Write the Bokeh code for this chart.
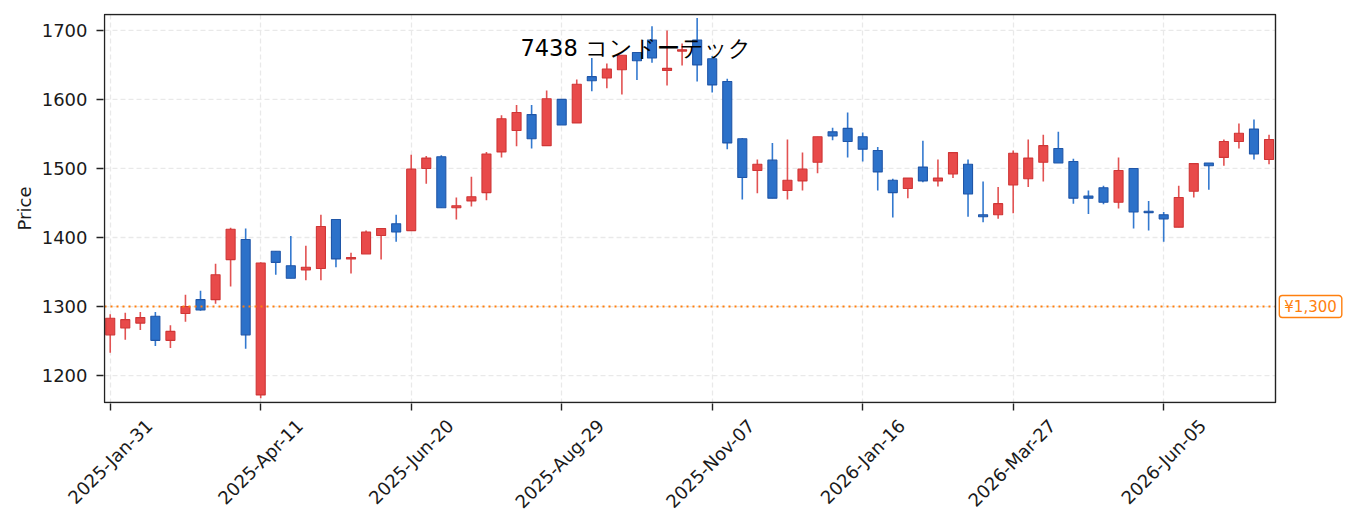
import math
from bokeh.plotting import figure
from bokeh.models import (ColumnDataSource, Range1d, FixedTicker, Label,
                          LinearAxis, BoxAnnotation)
from bokeh.embed import file_html
from bokeh.resources import INLINE

# ---------------- data ----------------
title_text = "7438  コンドーテック"
tick_labels = ["2025-Jan-31", "2025-Apr-11", "2025-Jun-20", "2025-Aug-29",
               "2025-Nov-07", "2026-Jan-16", "2026-Mar-27", "2026-Jun-05"]
y_ticks = [1200, 1300, 1400, 1500, 1600, 1700]
ref_price = 1300
ref_label = "¥1,300"

opens = [1259, 1269, 1276, 1286, 1251, 1290, 1310, 1310, 1368, 1397,
         1172, 1380, 1359, 1353, 1355, 1426, 1369, 1376, 1403, 1420,
         1410, 1500, 1517, 1443, 1453, 1465, 1524, 1555, 1578, 1533,
         1600, 1566, 1633, 1631, 1643, 1668, 1686, 1642, 1670, 1686,
         1659, 1626, 1543, 1497, 1512, 1468, 1482, 1509, 1553, 1558,
         1546, 1526, 1483, 1471, 1502, 1482, 1492, 1506, 1433, 1433,
         1476, 1485, 1509, 1529, 1510, 1460, 1472, 1451, 1500, 1438,
         1433, 1415, 1467, 1508, 1516, 1539, 1557, 1513]
highs = [1289, 1291, 1292, 1292, 1273, 1317, 1323, 1362, 1414, 1413,
         1364, 1380, 1402, 1388, 1433, 1426, 1378, 1410, 1413, 1433,
         1520, 1518, 1519, 1458, 1488, 1524, 1577, 1592, 1592, 1613,
         1600, 1629, 1660, 1652, 1664, 1668, 1706, 1700, 1681, 1718,
         1663, 1630, 1544, 1513, 1537, 1542, 1523, 1546, 1559, 1581,
         1552, 1531, 1485, 1486, 1540, 1513, 1523, 1513, 1481, 1473,
         1526, 1542, 1549, 1553, 1514, 1468, 1475, 1516, 1500, 1453,
         1437, 1475, 1507, 1508, 1542, 1565, 1571, 1549]
lows = [1233, 1252, 1266, 1243, 1240, 1278, 1294, 1304, 1329, 1239,
        1167, 1346, 1341, 1338, 1338, 1357, 1348, 1376, 1368, 1394,
        1410, 1478, 1443, 1426, 1445, 1454, 1516, 1532, 1529, 1533,
        1563, 1566, 1612, 1616, 1607, 1628, 1653, 1620, 1649, 1626,
        1610, 1528, 1455, 1464, 1457, 1455, 1468, 1493, 1541, 1516,
        1510, 1468, 1429, 1457, 1480, 1474, 1486, 1430, 1422, 1427,
        1435, 1473, 1481, 1508, 1449, 1434, 1448, 1442, 1413, 1410,
        1394, 1415, 1458, 1469, 1504, 1529, 1513, 1506]
closes = [1283, 1281, 1284, 1251, 1264, 1300, 1295, 1346, 1412, 1259,
          1363, 1364, 1341, 1357, 1416, 1369, 1371, 1408, 1413, 1408,
          1499, 1515, 1443, 1446, 1459, 1521, 1572, 1581, 1543, 1601,
          1563, 1622, 1627, 1644, 1664, 1656, 1660, 1645, 1672, 1650,
          1621, 1537, 1487, 1506, 1457, 1483, 1499, 1546, 1547, 1539,
          1528, 1495, 1465, 1486, 1482, 1486, 1523, 1463, 1430, 1449,
          1522, 1515, 1533, 1508, 1457, 1457, 1451, 1497, 1437, 1436,
          1427, 1458, 1507, 1504, 1539, 1551, 1521, 1542]

# ---------------- styling ----------------
FONT = "DejaVu Sans"
UP_FILL, UP_EDGE, UP_WICK = "#e84a4a", "#cf3636", "#e25252"
DN_FILL, DN_EDGE, DN_WICK = "#2c71c9", "#1f56a8", "#3379cf"
ORANGE = "#ff7f0e"
INK = "#1a1a1a"
FRAME = "#222222"
GRID = "#e9e9e9"

n = len(opens)
xs = list(range(n))
up = [c >= o for o, c in zip(opens, closes)]
src = ColumnDataSource(dict(
    x=xs,
    top=[max(o, c) for o, c in zip(opens, closes)],
    bottom=[min(o, c) for o, c in zip(opens, closes)],
    high=highs,
    low=lows,
    fill=[UP_FILL if u else DN_FILL for u in up],
    edge=[UP_EDGE if u else DN_EDGE for u in up],
    wick=[UP_WICK if u else DN_WICK for u in up],
))
tick_positions = list(range(0, 10 * len(tick_labels), 10))

# visible plotting box (data units) and pixel scale
box_l, box_r = -0.38, n - 1 + 0.43
box_b, box_t = 1161.0, 1723.0
px_x = (box_r - box_l) / 1171.0      # data units per pixel
px_y = (box_t - box_b) / 388.0

FW, FH = 1241, 390
x_start = box_l - px_x
x_end = x_start + FW * px_x
y_start = box_b - px_y
y_end = y_start + FH * px_y

p = figure(frame_width=FW, frame_height=FH,
           x_range=Range1d(x_start, x_end), y_range=Range1d(y_start, y_end),
           output_backend="svg", toolbar_location=None, title=None,
           min_border_left=103, min_border_right=0,
           min_border_top=13, min_border_bottom=113,
           background_fill_color="white", border_fill_color="white")
p.outline_line_color = None
p.ygrid.visible = False

# horizontal grid lines limited to the plotting box
p.segment(x0=[box_l] * len(y_ticks), x1=[box_r] * len(y_ticks),
          y0=y_ticks, y1=y_ticks, line_color=GRID, line_dash="5 3",
          line_width=1.3)
p.xgrid.ticker = FixedTicker(ticks=tick_positions)
p.xgrid.grid_line_color = GRID
p.xgrid.grid_line_dash = "5 3"
p.xgrid.grid_line_width = 1.3

# candles
p.segment(x0="x", y0="low", x1="x", y1="high", line_color="wick",
          line_width=1.6, source=src)
p.vbar(x="x", width=0.6, top="top", bottom="bottom", fill_color="fill",
       line_color="edge", line_width=1.1, source=src)

# reference price line
p.segment(x0=[box_l], x1=[box_r], y0=[ref_price], y1=[ref_price],
          line_color=ORANGE, line_dash="2 4", line_width=2)

# frame box
p.add_layout(BoxAnnotation(left=box_l, right=box_r, bottom=box_b, top=box_t,
                           fill_color=None, fill_alpha=0,
                           line_color=FRAME, line_width=1.4, line_alpha=1))

# y axis
p.yaxis.ticker = FixedTicker(ticks=y_ticks)
p.yaxis.axis_label = "Price"
p.yaxis.axis_label_text_font = FONT
p.yaxis.axis_label_text_font_size = "18px"
p.yaxis.axis_label_text_font_style = "normal"
p.yaxis.axis_label_text_color = INK
p.yaxis.axis_label_standoff = 4
p.yaxis.major_label_text_font = FONT
p.yaxis.major_label_text_font_size = "18px"
p.yaxis.major_label_text_color = INK
p.yaxis.major_label_standoff = 9

# x axis: tick marks only
p.xaxis.ticker = FixedTicker(ticks=tick_positions)
p.xaxis.major_label_overrides = {t: "" for t in tick_positions}
p.xaxis.major_label_standoff = 0

for ax in (p.xaxis, p.yaxis):
    ax.axis_line_color = None
    ax.major_tick_line_color = FRAME
    ax.major_tick_line_width = 1.4
    ax.major_tick_out = 7
    ax.major_tick_in = 0
    ax.minor_tick_line_color = None

# rotated date labels on a second axis, shifted so each label is centred
shift = 2.6
p.extra_x_ranges = {"labels": Range1d(x_start - shift, x_end - shift)}
lab_axis = LinearAxis(x_range_name="labels",
                      ticker=FixedTicker(ticks=tick_positions),
                      major_label_overrides=dict(zip(tick_positions, tick_labels)),
                      major_label_orientation=math.pi / 4,
                      major_label_standoff=12,
                      major_label_text_font=FONT,
                      major_label_text_font_size="18px",
                      major_label_text_color=INK,
                      axis_line_color=None, major_tick_line_color=None,
                      minor_tick_line_color=None,
                      major_tick_out=0, major_tick_in=0)
p.add_layout(lab_axis, "below")

# price tag to the right of the box
tag_kw = dict(x=box_r + 2.33, y=ref_price, text=ref_label,
              text_align="center", text_baseline="middle",
              text_font=FONT, text_font_size="15px", text_color=ORANGE,
              background_fill_color="white", border_line_color=ORANGE,
              border_line_width=1.4, border_radius=3)
try:
    tag = Label(padding=dict(left=5, right=5, top=2, bottom=2), **tag_kw)
except Exception:
    tag = Label(padding=3, **tag_kw)
p.add_layout(tag)

# title placed inside the box
p.add_layout(Label(x=27.26, y=1675, text=title_text, text_align="left",
                   text_baseline="alphabetic", text_font=FONT,
                   text_font_size="22.5px", text_color="black"))

open("out.html", "w").write(file_html(p, INLINE))
